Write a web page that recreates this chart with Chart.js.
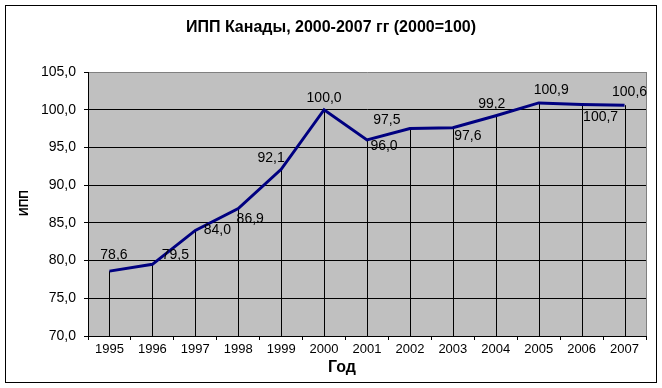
<!DOCTYPE html>
<html>
<head>
<meta charset="utf-8">
<script src="https://cdn.jsdelivr.net/npm/chart.js@4.4.0/dist/chart.umd.min.js"></script>
<style>
html,body{margin:0;padding:0;background:#fff;}
#wrap{width:662px;height:388px;position:relative;}
canvas{display:block;}
</style>
</head>
<body>
<div id="wrap"><canvas id="c" width="662" height="388"></canvas></div>
<script>
// ---- data ----
const years = ['1995','1996','1997','1998','1999','2000','2001','2002','2003','2004','2005','2006','2007'];
const ippValues = [78.6, 79.5, 84.0, 86.9, 92.1, 100.0, 96.0, 97.5, 97.6, 99.2, 100.9, 100.7, 100.6];
const yMin = 70;
const yMax = 105;
const yStep = 5;
const chartTitle = 'ИПП Канады, 2000-2007 гг (2000=100)';
const xAxisTitle = 'Год';
const yAxisTitle = 'ИПП';

// ---- style: data label offsets (px) relative to each point ----
const labelOffsets = [[4.5,-16],[23,-9],[22,0],[12,10.5],[-10,-11],[0,-12],[17,6],[-23,-8],[15,8.5],[-4,-11.5],[12.5,-12.7],[19,12.5],[5,-12.7]];

const FONT = '"Liberation Sans", Arial, sans-serif';
const fmt = v => Number(v).toFixed(1).replace('.', ',');

const decorPlugin = {
  id: 'decor',
  beforeDraw(chart) {
    const {ctx, chartArea: a} = chart;
    ctx.save();
    ctx.fillStyle = '#fff';
    ctx.fillRect(0, 0, chart.width, chart.height);
    ctx.fillStyle = '#C0C0C0';
    ctx.fillRect(a.left, a.top, a.right - a.left, a.bottom - a.top);
    ctx.restore();
  },
  beforeDatasetsDraw(chart) {
    const {ctx, chartArea: a} = chart;
    ctx.save();
    ctx.strokeStyle = '#808080';
    ctx.lineWidth = 1;
    ctx.beginPath();
    ctx.moveTo(Math.round(a.right) + 0.5, a.top);
    ctx.lineTo(Math.round(a.right) + 0.5, a.bottom);
    ctx.stroke();
    const meta = chart.getDatasetMeta(0);
    ctx.strokeStyle = '#000';
    meta.data.forEach(p => {
      const x = Math.round(p.x) + 0.5;
      ctx.beginPath();
      ctx.moveTo(x, p.y);
      ctx.lineTo(x, a.bottom);
      ctx.stroke();
    });
    ctx.restore();
  },
  afterDatasetsDraw(chart) {
    const {ctx} = chart;
    const meta = chart.getDatasetMeta(0);
    const vals = chart.data.datasets[0].data;
    ctx.save();
    ctx.font = '14px ' + FONT;
    ctx.fillStyle = '#000';
    ctx.textAlign = 'center';
    ctx.textBaseline = 'middle';
    meta.data.forEach((p, i) => {
      const o = labelOffsets[i] || [0, -12];
      ctx.fillText(fmt(vals[i]), p.x + o[0], p.y + o[1]);
    });
    ctx.restore();
  },
  afterDraw(chart) {
    const {ctx} = chart;
    ctx.save();
    ctx.strokeStyle = '#000';
    ctx.lineWidth = 1;
    ctx.strokeRect(5.5, 5.5, 651, 377);
    ctx.fillStyle = '#000';
    ctx.font = 'bold 16px ' + FONT;
    ctx.textAlign = 'center';
    ctx.textBaseline = 'middle';
    ctx.fillText(chartTitle, 331, 28);
    ctx.font = 'bold 16px ' + FONT;
    ctx.textBaseline = 'alphabetic';
    ctx.fillText(xAxisTitle, 342, 372);
    ctx.translate(24.5, 203);
    ctx.rotate(-Math.PI / 2);
    ctx.font = 'bold 12px ' + FONT;
    ctx.textBaseline = 'middle';
    ctx.fillText(yAxisTitle, 0, 0);
    ctx.restore();
  }
};

new Chart(document.getElementById('c'), {
  type: 'line',
  data: {
    labels: years,
    datasets: [{
      data: ippValues,
      borderColor: '#000080',
      borderWidth: 3,
      pointRadius: 0,
      pointHoverRadius: 0,
      tension: 0,
      fill: false
    }]
  },
  options: {
    responsive: false,
    animation: false,
    devicePixelRatio: 1,
    layout: { padding: { left: 0, top: 72, right: 16, bottom: 0 } },
    plugins: {
      legend: { display: false },
      title: { display: false },
      tooltip: { enabled: false }
    },
    scales: {
      x: {
        type: 'category',
        offset: true,
        afterFit(scale) { scale.height = 52; },
        grid: {
          display: true,
          offset: true,
          drawOnChartArea: false,
          drawTicks: true,
          tickLength: 4,
          color: '#000',
          tickColor: '#000'
        },
        border: { display: true, color: '#000', width: 1 },
        ticks: {
          font: { family: FONT, size: 13 },
          color: '#000',
          padding: 2,
          maxRotation: 0,
          autoSkip: false
        }
      },
      y: {
        min: yMin,
        max: yMax,
        afterFit(scale) { scale.width = 88; },
        grid: {
          color: ctx => (ctx.tick && ctx.tick.value === yMax) ? '#808080' : '#000',
          tickColor: '#000',
          tickLength: 4,
          drawTicks: true
        },
        border: { display: true, color: '#000', width: 1 },
        ticks: {
          stepSize: yStep,
          font: { family: FONT, size: 14 },
          color: '#000',
          padding: 8,
          callback: v => fmt(v)
        }
      }
    }
  },
  plugins: [decorPlugin]
});
</script>
</body>
</html>
